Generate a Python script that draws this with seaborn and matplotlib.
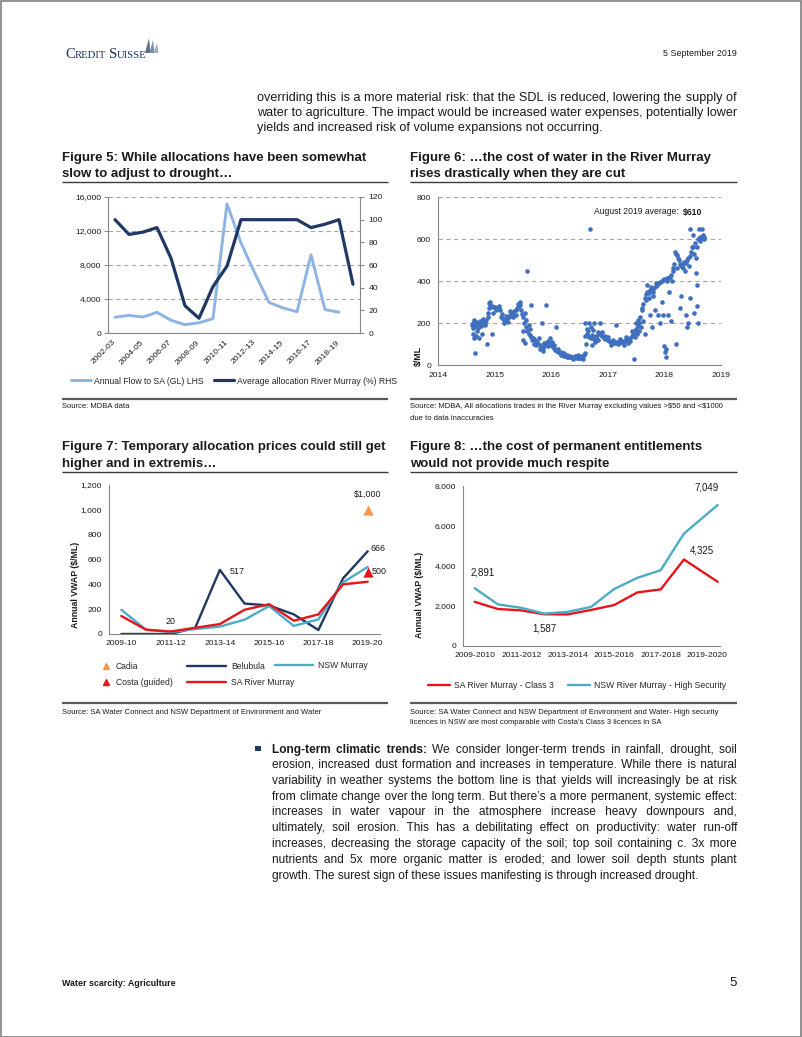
import numpy as np
import pandas as pd
import matplotlib
matplotlib.use('Agg')
import matplotlib.pyplot as plt
import seaborn as sns
from matplotlib.lines import Line2D
from matplotlib.patches import Rectangle, Polygon

# ---------------- data ----------------
f5_years = ['2002-03', '2003-04', '2004-05', '2005-06', '2006-07', '2007-08', '2008-09', '2009-10', '2010-11',
            '2011-12', '2012-13', '2013-14', '2014-15', '2015-16', '2016-17', '2017-18', '2018-19', '2019-20']
f5_flow = [1850, 2080, 1880, 2430, 1500, 980, 1200, 1700, 15200, 10600, 7000, 3600, 2950, 2500, 9200, 2750, 2450, np.nan]
f5_alloc = [100, 87, 89, 93, 66, 24, 13, 41, 59, 100, 100, 100, 100, 100, 93, 96, 100, 43]

f6_date_main = [
    2014.600, 2014.625, 2014.650, 2014.675, 2014.700, 2014.725, 2014.750, 2014.775, 2014.800, 2014.825,
    2014.850, 2014.875, 2014.900, 2014.925, 2014.950, 2014.975, 2015.000, 2015.025, 2015.050, 2015.075,
    2015.100, 2015.125, 2015.150, 2015.175, 2015.200, 2015.225, 2015.250, 2015.275, 2015.300, 2015.325,
    2015.350, 2015.375, 2015.400, 2015.425, 2015.450, 2015.475, 2015.500, 2015.525, 2015.550, 2015.575,
    2015.600, 2015.625, 2015.650, 2015.675, 2015.700, 2015.725, 2015.750, 2015.775, 2015.800, 2015.825,
    2015.850, 2015.875, 2015.900, 2015.925, 2015.950, 2015.975, 2016.000, 2016.025, 2016.050, 2016.075,
    2016.100, 2016.125, 2016.150, 2016.175, 2016.200, 2016.225, 2016.250, 2016.275, 2016.300, 2016.325,
    2016.350, 2016.375, 2016.400, 2016.425, 2016.450, 2016.475, 2016.500, 2016.525, 2016.550, 2016.575,
    2016.600, 2016.625, 2016.650, 2016.675, 2016.700, 2016.725, 2016.750, 2016.775, 2016.800, 2016.825,
    2016.850, 2016.875, 2016.900, 2016.925, 2016.950, 2016.975, 2017.000, 2017.025, 2017.050, 2017.075,
    2017.100, 2017.125, 2017.150, 2017.175, 2017.200, 2017.225, 2017.250, 2017.275, 2017.300, 2017.325,
    2017.350, 2017.375, 2017.400, 2017.425, 2017.450, 2017.475, 2017.500, 2017.525, 2017.550, 2017.575,
    2017.600, 2017.625, 2017.650, 2017.675, 2017.700, 2017.725, 2017.750, 2017.775, 2017.800, 2017.825,
    2017.850, 2017.875, 2017.900, 2017.925, 2017.950, 2017.975, 2018.000, 2018.025, 2018.050, 2018.075,
    2018.100, 2018.125, 2018.150, 2018.175, 2018.200, 2018.225, 2018.250, 2018.275, 2018.300, 2018.325,
    2018.350, 2018.375, 2018.400, 2018.425, 2018.450, 2018.475, 2018.500, 2018.525, 2018.550, 2018.575,
    2018.600, 2018.625, 2018.650, 2018.675, 2018.700]
f6_value_main = [
    190, 200, 185, 205, 195, 200, 210, 195, 205, 200,
    215, 250, 295, 288, 282, 278, 275, 272, 270, 265,
    260, 245, 220, 210, 215, 225, 230, 240, 250, 245,
    255, 260, 270, 280, 285, 262, 230, 200, 180, 160,
    150, 145, 135, 130, 125, 115, 110, 100, 95, 85,
    80, 90, 100, 110, 115, 105, 95, 85, 80, 70,
    65, 60, 55, 50, 48, 45, 42, 40, 40, 38,
    38, 36, 35, 38, 35, 33, 35, 32, 40, 50,
    140, 150, 160, 135, 130, 145, 125, 110, 140, 155,
    150, 145, 140, 130, 125, 130, 120, 115, 110, 108,
    105, 105, 110, 108, 105, 110, 112, 108, 115, 120,
    125, 120, 130, 140, 150, 160, 170, 185, 200, 230,
    260, 290, 320, 340, 350, 345, 355, 360, 350, 365,
    375, 380, 390, 395, 400, 405, 410, 408, 415, 412,
    420, 430, 450, 480, 530, 525, 500, 480, 470, 480,
    490, 485, 500, 510, 520, 540, 560, 530, 510, 560,
    600, 610, 605, 615, 610]
f6_date_extra = [
    2014.61, 2014.62, 2014.63, 2014.64, 2014.66, 2014.67, 2014.69, 2014.71, 2014.73, 2014.76,
    2014.78, 2014.80, 2014.83, 2014.86, 2014.88, 2014.90, 2014.92, 2014.95, 2014.97, 2015.02,
    2015.08, 2015.12, 2015.16, 2015.20, 2015.24, 2015.28, 2015.33, 2015.37, 2015.42, 2015.45,
    2015.48, 2015.50, 2015.51, 2015.53, 2015.54, 2015.56, 2015.58, 2015.60, 2015.62, 2015.64,
    2015.66, 2015.70, 2015.73, 2015.78, 2015.80, 2015.83, 2015.86, 2015.88, 2015.91, 2015.94,
    2015.98, 2016.02, 2016.05, 2016.08, 2016.12, 2016.18, 2016.22, 2016.28, 2016.33, 2016.38,
    2016.42, 2016.47, 2016.52, 2016.56, 2016.59, 2016.60, 2016.62, 2016.64, 2016.66, 2016.68,
    2016.70, 2016.72, 2016.74, 2016.76, 2016.79, 2016.82, 2016.86, 2016.90, 2016.95, 2017.00,
    2017.05, 2017.10, 2017.15, 2017.18, 2017.22, 2017.28, 2017.32, 2017.36, 2017.40, 2017.43,
    2017.46, 2017.48, 2017.50, 2017.52, 2017.54, 2017.56, 2017.58, 2017.60, 2017.62, 2017.65,
    2017.68, 2017.70, 2017.72, 2017.74, 2017.76, 2017.78, 2017.80, 2017.83, 2017.86, 2017.88,
    2017.92, 2017.95, 2017.97, 2018.00, 2018.01, 2018.02, 2018.03, 2018.05, 2018.07, 2018.09,
    2018.11, 2018.13, 2018.16, 2018.18, 2018.20, 2018.22, 2018.24, 2018.27, 2018.30, 2018.33,
    2018.36, 2018.38, 2018.40, 2018.42, 2018.44, 2018.46, 2018.48, 2018.50, 2018.52, 2018.54,
    2018.56, 2018.57, 2018.58, 2018.60, 2018.61, 2018.63, 2018.66, 2018.68, 2018.70, 2018.46]
f6_value_extra = [
    175, 150, 130, 215, 55, 140, 160, 175, 130, 185,
    150, 220, 190, 100, 230, 270, 300, 150, 250, 260,
    280, 230, 200, 235, 205, 255, 230, 240, 290, 300,
    245, 160, 120, 105, 250, 215, 450, 190, 170, 285,
    120, 100, 95, 130, 75, 200, 65, 105, 285, 90,
    130, 110, 95, 180, 75, 60, 55, 48, 45, 30,
    42, 50, 45, 30, 55, 200, 100, 170, 200, 650,
    180, 95, 165, 200, 130, 120, 200, 155, 140, 135,
    95, 120, 190, 100, 125, 95, 135, 105, 115, 160,
    30, 135, 200, 150, 215, 160, 180, 270, 210, 150,
    310, 380, 320, 240, 370, 180, 330, 260, 390, 240,
    200, 300, 240, 90, 60, 40, 75, 400, 240, 350,
    210, 400, 460, 540, 100, 460, 510, 270, 330, 460,
    450, 240, 180, 200, 470, 320, 560, 620, 250, 580,
    440, 380, 280, 200, 650, 590, 650, 620, 600, 650]
f6_aug_avg = 610

f7_years = ['2009-10', '2010-11', '2011-12', '2012-13', '2013-14', '2014-15', '2015-16',
            '2016-17', '2017-18', '2018-19', '2019-20']
f7_belubula = [0, 0, 0, 50, 517, 245, 230, 158, 32, 448, 666]
f7_nsw = [195, 35, 15, 40, 60, 115, 225, 65, 118, 416, 540]
f7_sa = [145, 35, 20, 50, 80, 195, 240, 107, 158, 400, 421]
f7_cadia = 1000
f7_costa = 500

f8_labels = ['2009-2010', '2011-2012', '2013-2014', '2015-2016', '2017-2018', '2019-2020']
f8_period = [2009, 2010, 2011, 2012, 2013, 2014, 2015, 2016, 2017, 2018, 2019.45]
f8_sa = [2210, 1850, 1780, 1587, 1580, 1800, 2050, 2680, 2830, 4325, 3210]
f8_nsw = [2891, 2080, 1910, 1620, 1710, 1950, 2850, 3410, 3790, 5620, 7049]

para1 = ["overriding this is a more material risk: that the SDL is reduced, lowering the supply of",
         "water to agriculture. The impact would be increased water expenses, potentially lower",
         "yields and increased risk of volume expansions not occurring."]
para2 = ["*Long-term *climatic *trends: We consider longer-term trends in rainfall, drought, soil",
         "erosion, increased dust formation and increases in temperature. While there is natural",
         "variability in weather systems the bottom line is that yields will increasingly be at risk",
         "from climate change over the long term. But there\u2019s a more permanent, systemic effect:",
         "increases in water vapour in the atmosphere increase heavy downpours and,",
         "ultimately, soil erosion. This has a debilitating effect on productivity: water run-off",
         "increases, decreasing the storage capacity of the soil; top soil containing c. 3x more",
         "nutrients and 5x more organic matter is eroded; and lower soil depth stunts plant",
         "growth. The surest sign of these issues manifesting is through increased drought."]

# ---------------- style ----------------
sns.set_theme(style='white')
plt.rcParams['font.family'] = ['Liberation Sans', 'DejaVu Sans']
plt.rcParams['text.parse_math'] = False
plt.rcParams['axes.linewidth'] = 0.8

C_LIGHT = '#8DB4E2'
C_NAVY = '#1F3864'
C_DOT = '#3F6FBF'
C_TEAL = '#4BACC6'
C_RED = '#E8141B'
C_ORANGE = '#F79646'
C_SPINE = '#868686'
C_GRID = '#A6A6A6'
C_TXT = '#1A1A1A'
TICK_FS = 6.1
LEG_FS = 6.2
HAIR = '\u200a'

W, H = 802, 1037
fig = plt.figure(figsize=(W / 100, H / 100), dpi=100)
fig.patch.set_facecolor('white')
R = fig.canvas.get_renderer()


def fxy(x, y):
    return x / W, 1 - y / H


def add_ax(l, t, r, b):
    return fig.add_axes([l / W, 1 - b / H, (r - l) / W, (b - t) / H])


def tw(s, fs, weight='normal', family=None):
    kw = {'family': family} if family else {}
    t = fig.text(0, 0, s, fontsize=fs, fontweight=weight, **kw)
    w = t.get_window_extent(R).width
    t.remove()
    return w


def hline(x0, x1, y, lw, color):
    fig.add_artist(Line2D([x0 / W, x1 / W], [1 - y / H, 1 - y / H], transform=fig.transFigure,
                          lw=lw, color=color, solid_capstyle='butt'))


def segments_of(line):
    words = [(w.lstrip('*'), w.startswith('*')) for w in line.split(' ')]
    segs = []
    for w, b in words:
        if segs and segs[-1][1] == b:
            segs[-1][0].append(w)
        else:
            segs.append([[w], b])
    return segs


def justify(lines, x0, x1, y0, dy, fs_max, color=C_TXT):
    """Justified paragraph: each line drawn as one text per weight run, gaps widened with hair spaces."""
    target = x1 - x0
    ref = 10
    parsed = [segments_of(ln) for ln in lines]

    def natural(segs, fs):
        return sum(tw(' '.join(ws), fs, 'bold' if b else 'normal') for ws, b in segs) + \
            (tw('a a', fs) - tw('aa', fs)) * (len(segs) - 1)

    fs = fs_max
    for segs in parsed[:-1]:
        fs = min(fs, ref * target / natural(segs, ref) * 0.995)
    sp = tw('a a', fs) - tw('aa', fs)
    hair = (tw('a' + HAIR * 40 + 'a', fs) - tw('aa', fs)) / 40
    for i, segs in enumerate(parsed):
        ngaps = sum(len(ws) for ws, _ in segs) - 1
        ks = [0] * ngaps
        if i < len(parsed) - 1 and ngaps > 0:
            total_k = int(round((target - natural(segs, fs)) / hair))
            base, rem = divmod(max(total_k, 0), ngaps)
            ks = [base] * ngaps
            for j in range(rem):
                ks[int((j + 0.5) * ngaps / rem)] += 1
        x = x0
        g = 0
        for si, (ws, b) in enumerate(segs):
            s = ws[0]
            for w in ws[1:]:
                s += ' ' + HAIR * ks[g] + w
                g += 1
            fig.text(x / W, 1 - (y0 + i * dy) / H, s, fontsize=fs, fontweight='bold' if b else 'normal',
                     va='baseline', ha='left', color=color)
            x += tw(s, fs, 'bold' if b else 'normal')
            if si < len(segs) - 1:
                x += sp + hair * ks[g]
                g += 1
    return fs


# ---------------- page frame / header / footer ----------------
fig.add_artist(Rectangle((0.5 / W, 0.5 / H), (W - 1.5) / W, (H - 1.5) / H, transform=fig.transFigure,
                         fill=False, ec='#7F7F7F', lw=1.2))

logo_col = '#1C2F5E'
x = 65
for s, fs in [('C', 10.6), ('REDIT', 7.7), (' ', 7.7), ('S', 10.6), ('UISSE', 7.7)]:
    fig.text(x / W, 1 - 57.5 / H, s, fontsize=fs, family='Liberation Serif', color=logo_col, va='baseline')
    x += tw(s, fs, family='Liberation Serif')
for pts, c in [([(145, 53), (149, 38), (150.5, 53)], '#5C6F93'),
               ([(149.5, 53), (153, 40), (154.5, 53)], '#7D8DAA'),
               ([(153.5, 53), (157, 43), (158.5, 53)], '#A0ACC2')]:
    fig.add_artist(Polygon([fxy(px, py) for px, py in pts], closed=True, transform=fig.transFigure,
                           fc=c, ec='none'))
fig.text(737 / W, 1 - 53 / H, '5 September 2019', fontsize=6.4, ha='right', va='center', color=C_TXT)

fig.text(62 / W, 1 - 984 / H, 'Water scarcity: Agriculture', fontsize=6.4, fontweight='bold',
         ha='left', va='center', color=C_TXT)
fig.text(737 / W, 1 - 983 / H, '5', fontsize=9.5, ha='right', va='center', color=C_TXT)

# body text
justify(para1, 257, 737, 100.5, 15.4, 9.6)
fig.add_artist(Rectangle(fxy(255, 751), 5.5 / W, 5.5 / H, transform=fig.transFigure, fc=C_NAVY, ec='none'))
justify(para2, 272, 737, 752.5, 15.75, 9.6)

# figure titles (fit to width)
title_fs = 10 * (388 - 62) / tw('Figure 7: Temporary allocation prices could still get', 10, 'bold')
titles = [(62, 160.5, ['Figure 5: While allocations have been somewhat', 'slow to adjust to drought\u2026']),
          (410, 160.5, ['Figure 6: \u2026the cost of water in the River Murray', 'rises drastically when they are cut']),
          (62, 450, ['Figure 7: Temporary allocation prices could still get', 'higher and in extremis\u2026']),
          (410, 450, ['Figure 8: \u2026the cost of permanent entitlements', 'would not provide much respite'])]
for x0, y0, lines in titles:
    for i, ln in enumerate(lines):
        fig.text(x0 / W, 1 - (y0 + i * 17) / H, ln, fontsize=title_fs, fontweight='bold', va='baseline',
                 ha='left', color=C_TXT)
for x0, x1 in [(62, 388), (410, 737)]:
    hline(x0, x1, 182, 1.0, '#3A3A3A')
    hline(x0, x1, 472, 1.0, '#3A3A3A')
    hline(x0, x1, 399, 1.6, '#595959')
    hline(x0, x1, 703, 1.6, '#595959')

SRC_FS = 5.5
fig.text(62 / W, 1 - 407 / H, 'Source: MDBA data', fontsize=SRC_FS, va='center', color=C_TXT)
fig.text(410 / W, 1 - 407 / H, 'Source: MDBA, All allocations trades in the River Murray excluding values >$50 and <$1000',
         fontsize=SRC_FS, va='center', color=C_TXT)
fig.text(410 / W, 1 - 418 / H, 'due to data inaccuracies', fontsize=SRC_FS, va='center', color=C_TXT)
fig.text(62 / W, 1 - 712 / H, 'Source: SA Water Connect and NSW Department of Environment and Water',
         fontsize=SRC_FS, va='center', color=C_TXT)
fig.text(410 / W, 1 - 712 / H, 'Source: SA Water Connect and NSW Department of Environment and Water- High security',
         fontsize=SRC_FS, va='center', color=C_TXT)
fig.text(410 / W, 1 - 723 / H, 'licences in NSW are most comparable with Costa\u2019s Class 3 licences in SA',
         fontsize=SRC_FS, va='center', color=C_TXT)


def style_axes(ax, left=True, right=False):
    for s in ['top', 'right', 'left', 'bottom']:
        ax.spines[s].set_visible(False)
    ax.spines['bottom'].set_visible(True)
    ax.spines['bottom'].set_color(C_SPINE)
    if left:
        ax.spines['left'].set_visible(True)
        ax.spines['left'].set_color(C_SPINE)
    if right:
        ax.spines['right'].set_visible(True)
        ax.spines['right'].set_color(C_SPINE)
    ax.set_xlabel('')
    ax.set_ylabel('')
    ax.tick_params(axis='both', which='both', labelsize=TICK_FS, colors=C_SPINE, labelcolor=C_TXT,
                   width=0.7, length=3, pad=2)
    ax.set_facecolor('none')


def comma(v):
    return f'{v:,.0f}'


# ---------------- Figure 5 ----------------
ax5 = add_ax(108, 197, 360, 333)
pos5 = np.arange(len(f5_years))
df5 = pd.DataFrame({'pos': pos5, 'flow': f5_flow, 'alloc': f5_alloc})
sns.lineplot(data=df5.dropna(subset=['flow']), x='pos', y='flow', ax=ax5, color=C_LIGHT, lw=2.1)
ax5b = ax5.twinx()
sns.lineplot(data=df5, x='pos', y='alloc', ax=ax5b, color=C_NAVY, lw=2.3)
ax5.set_xlim(-0.5, len(f5_years) - 0.5)
ax5.set_ylim(0, 16000)
ax5b.set_ylim(0, 120)
style_axes(ax5, left=True)
style_axes(ax5b, left=False, right=True)
ax5b.spines['bottom'].set_visible(False)
ax5.yaxis.grid(True, ls=(0, (4, 3)), color=C_GRID, lw=0.8)
ax5.set_axisbelow(True)
ax5.set_yticks(np.arange(0, 16001, 4000))
ax5.set_yticklabels([comma(v) for v in np.arange(0, 16001, 4000)])
ax5b.set_yticks(np.arange(0, 121, 20))
ax5b.set_yticklabels([str(v) for v in np.arange(0, 121, 20)])
ax5.set_xticks(pos5[::2])
ax5.set_xticklabels(f5_years[::2], rotation=45, ha='right', va='center', rotation_mode='anchor')
ax5.tick_params(axis='x', which='major', length=0, pad=6)
ax5.set_xticks(np.arange(-0.5, len(f5_years), 2), minor=True)
ax5.tick_params(axis='x', which='minor', length=3)
ax5b.tick_params(axis='y', pad=3)
fig.legend(handles=[Line2D([], [], color=C_LIGHT, lw=2.1), Line2D([], [], color=C_NAVY, lw=2.3)],
           labels=['Annual Flow to SA (GL) LHS', 'Average allocation River Murray (%) RHS'],
           loc='center left', bbox_to_anchor=fxy(71, 381), ncol=2, frameon=False, fontsize=LEG_FS,
           handlelength=2.3, handletextpad=0.35, columnspacing=1.2, borderpad=0, borderaxespad=0)

# ---------------- Figure 6 ----------------
ax6 = add_ax(438, 197, 721, 365)
df6 = pd.DataFrame({'date': f6_date_main + f6_date_extra, 'value': f6_value_main + f6_value_extra})
sns.scatterplot(data=df6, x='date', y='value', ax=ax6, color=C_DOT, s=11, linewidth=0)
ax6.set_xlim(2014, 2019)
ax6.set_ylim(0, 800)
style_axes(ax6)
ax6.yaxis.grid(True, ls=(0, (4, 3)), color=C_GRID, lw=0.8)
ax6.set_axisbelow(True)
ax6.set_xticks(range(2014, 2020))
ax6.set_xticklabels([str(y) for y in range(2014, 2020)])
ax6.set_yticks(range(0, 801, 200))
ax6.set_yticklabels([str(v) for v in range(0, 801, 200)])
fig.text(418 / W, 1 - 356 / H, '$/ML', rotation=90, ha='center', va='center', fontsize=6.3,
         fontweight='bold', color=C_TXT)
val_txt = f'${f6_aug_avg}'
fig.text(702 / W, 1 - 212 / H, val_txt, fontsize=6.2, fontweight='bold', ha='right', va='center', color=C_TXT)
fig.text((702 - tw(val_txt, 6.2, 'bold') - 1) / W, 1 - 212 / H, 'August 2019 average: ', fontsize=6.2,
         ha='right', va='center', color=C_TXT)

# ---------------- Figure 7 ----------------
ax7 = add_ax(109, 485, 380, 634)
pos7 = np.arange(len(f7_years))
df7 = pd.concat([pd.DataFrame({'pos': pos7, 'value': v, 'series': n})
                 for n, v in [('Belubula', f7_belubula), ('NSW Murray', f7_nsw), ('SA River Murray', f7_sa)]])
pal7 = {'Belubula': C_NAVY, 'NSW Murray': C_TEAL, 'SA River Murray': C_RED}
sns.lineplot(data=df7, x='pos', y='value', hue='series', palette=pal7, lw=1.7, ax=ax7, legend=False)
last7 = len(f7_years) - 1
sns.scatterplot(x=[last7], y=[f7_cadia], ax=ax7, marker='^', s=55, color=C_ORANGE, linewidth=0)
sns.scatterplot(x=[last7], y=[f7_costa], ax=ax7, marker='^', s=55, color=C_RED, linewidth=0)
ax7.set_xlim(-0.5, len(f7_years) - 0.5)
ax7.set_ylim(0, 1200)
style_axes(ax7)
ax7.set_yticks(range(0, 1201, 200))
ax7.set_yticklabels([comma(v) for v in range(0, 1201, 200)])
ax7.set_xticks(pos7[::2])
ax7.set_xticklabels(f7_years[::2])
ax7.tick_params(axis='x', which='major', length=0, pad=4)
fig.text(75 / W, 1 - 585 / H, 'Annual VWAP ($/ML)', rotation=90, ha='center', va='center', fontsize=6.3,
         fontweight='bold', color=C_TXT)
ANN7 = dict(fontsize=6.4, color=C_TXT, textcoords='offset points')
ax7.annotate(f'${f7_cadia:,}', (last7, f7_cadia), xytext=(0, 8), ha='center', va='bottom', **ANN7)
ax7.annotate(f'{f7_belubula[-1]}', (last7, f7_belubula[-1]), xytext=(2, 2), ha='left', va='center', **ANN7)
ax7.annotate(f'{f7_costa}', (last7, f7_costa), xytext=(3, 0), ha='left', va='center', **ANN7)
i517 = int(np.argmax(f7_belubula[:8]))
ax7.annotate(f'{f7_belubula[i517]}', (i517, f7_belubula[i517]), xytext=(7, -1), ha='left', va='center', **ANN7)
ax7.annotate(f'{f7_sa[2]}', (2, f7_sa[2]), xytext=(0, 4), ha='center', va='bottom', **ANN7)
LEGKW = dict(loc='center left', frameon=False, fontsize=LEG_FS, handletextpad=0.6, labelspacing=0.8,
             borderpad=0, borderaxespad=0)
fig.legend(handles=[Line2D([], [], marker='^', ls='none', color=C_ORANGE, markersize=4.2),
                    Line2D([], [], marker='^', ls='none', color=C_RED, markersize=4.2)],
           labels=['Cadia', 'Costa (guided)'], bbox_to_anchor=fxy(102, 674.5), handlelength=1.0, **LEGKW)
fig.legend(handles=[Line2D([], [], color=C_NAVY, lw=1.7), Line2D([], [], color=C_RED, lw=1.7)],
           labels=['Belubula', 'SA River Murray'], bbox_to_anchor=fxy(187, 674.5), handlelength=4.5, **LEGKW)
fig.legend(handles=[Line2D([], [], color=C_TEAL, lw=1.7)],
           labels=['NSW Murray'], bbox_to_anchor=fxy(275, 665.5), handlelength=4.4, **LEGKW)

# ---------------- Figure 8 ----------------
ax8 = add_ax(463, 486, 720, 646)
df8 = pd.concat([pd.DataFrame({'period': f8_period, 'value': v, 'series': n})
                 for n, v in [('SA River Murray - Class 3', f8_sa), ('NSW River Murray - High Security', f8_nsw)]])
pal8 = {'SA River Murray - Class 3': C_RED, 'NSW River Murray - High Security': C_TEAL}
sns.lineplot(data=df8, x='period', y='value', hue='series', palette=pal8, lw=1.7, ax=ax8, legend=False)
ax8.set_xlim(f8_period[0] - 0.5, 2019.55)
ax8.set_ylim(0, 8000)
style_axes(ax8)
ax8.set_yticks(range(0, 8001, 2000))
ax8.set_yticklabels([comma(v) for v in range(0, 8001, 2000)])
lab_pos = [f8_period[0] + 2 * k for k in range(len(f8_labels))]
ax8.set_xticks(lab_pos)
ax8.set_xticklabels(f8_labels)
ax8.tick_params(axis='x', which='major', length=0, pad=4)
ax8.set_xticks([p - 0.5 for p in lab_pos], minor=True)
ax8.tick_params(axis='x', which='minor', length=3)
fig.text(420 / W, 1 - 595 / H, 'Annual VWAP ($/ML)', rotation=90, ha='center', va='center', fontsize=6.3,
         fontweight='bold', color=C_TXT)
ANN8 = dict(fontsize=7.0, color=C_TXT, textcoords='offset points')
ax8.annotate(f'{f8_nsw[0]:,}', (f8_period[0], f8_nsw[0]), xytext=(6, 8), ha='center', va='bottom', **ANN8)
ax8.annotate(f'{f8_sa[3]:,}', (f8_period[3], f8_sa[3]), xytext=(0, -7), ha='center', va='top', **ANN8)
ax8.annotate(f'{f8_sa[9]:,}', (f8_period[9], f8_sa[9]), xytext=(13, 3), ha='center', va='bottom', **ANN8)
ax8.annotate(f'{f8_nsw[-1]:,}', (f8_period[-1], f8_nsw[-1]), xytext=(-8, 9), ha='center', va='bottom', **ANN8)
fig.legend(handles=[Line2D([], [], color=C_RED, lw=1.7), Line2D([], [], color=C_TEAL, lw=1.7)],
           labels=['SA River Murray - Class 3', 'NSW River Murray - High Security'],
           loc='center left', bbox_to_anchor=fxy(428, 686), ncol=2, frameon=False, fontsize=LEG_FS,
           handlelength=2.6, handletextpad=0.45, columnspacing=1.6, borderpad=0, borderaxespad=0)

fig.savefig('out.png', dpi=100, facecolor='white')
